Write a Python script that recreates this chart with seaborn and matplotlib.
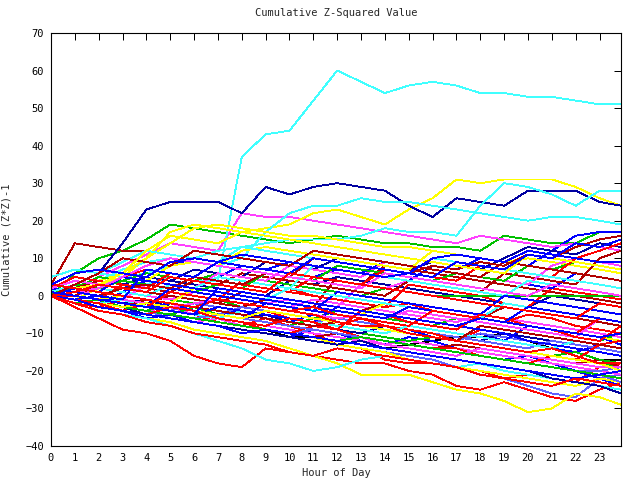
import numpy as np
import pandas as pd
import matplotlib
matplotlib.use("Agg")
import matplotlib.pyplot as plt
import seaborn as sns

hours = list(range(24)) + [23.9]

# cumulative (z*z)-1, one list per run, grouped by the line colour used in the chart
red_runs = [
    [0, -3, -6, -9, -10, -12, -16, -18, -19, -14, -15, -16, -17, -18, -18, -20, -21, -24, -25, -23, -25, -27, -28, -25, -23],
    [0, -1, -3, -4, -2, -4, -5, -7, -8, -6, -8, -10, -13, -14, -17, -18, -18, -19, -20, -22, -21, -22, -23, -19, -18],
    [1, 0, -1, 3, 2, 1, 0, -1, 4, 3, 2, 0, -1, -2, -3, 3, 2, 1, 0, -2, -3, 2, 1, 0, -1],
    [0, 2, 1, 0, -1, -2, -4, -5, -3, -4, -6, -7, -8, -6, -8, -9, -10, -12, -9, -10, -12, -13, -14, -15, -16],
    [2, 5, 4, 3, 2, 6, 5, 4, 3, 2, 1, 0, -1, -2, -3, -2, -4, -5, -6, -7, -5, -6, -8, -9, -10],
    [0, -2, -3, -1, -2, -4, -5, -6, -7, -9, -10, -8, -9, -11, -12, -13, -14, -14, -16, -17, -18, -16, -17, -13, -12],
    [1, 3, 6, 5, 7, 6, 5, 4, 3, 2, 1, 5, 4, 3, 7, 6, 5, 4, 8, 7, 6, 5, 10, 12, 14],
    [0, -1, -2, -4, -5, -3, -4, -6, -7, -8, -6, -7, -9, -4, -5, -7, -8, -9, -5, -6, -8, -9, -10, -6, -7],
    [3, 2, 1, 0, -1, -2, -3, -1, -2, -3, -4, -5, -7, -8, -8, -10, -11, -12, -13, -14, -15, -14, -16, -18, -18],
    [0, 0, -1, -2, -3, 1, 0, -1, -2, -3, -4, -3, -5, -6, -7, -8, -4, -5, -6, -7, -8, -9, -11, -12, -8],
    [0, -2, -4, -5, -7, -8, -10, -11, -12, -13, -15, -16, -14, -15, -16, -17, -18, -19, -21, -22, -23, -24, -22, -23, -24],
    [0, 1, 3, 2, 1, 5, 4, 3, 2, 1, 6, 5, 4, 3, 2, 1, 0, -1, -2, -3, -4, -5, -6, -2, -3],
]
green_runs = [
    [0, 6, 10, 12, 15, 19, 18, 17, 16, 15, 14, 15, 16, 15, 14, 14, 13, 13, 12, 16, 15, 14, 14, 17, 17],
    [0, 3, 2, 1, 0, -1, -2, -1, -3, -4, -5, -6, -4, -5, -6, -7, -8, -6, -7, -8, -9, -10, -11, -12, -10],
    [0, -1, -2, -3, -4, -5, -3, -4, -5, -6, -7, -8, -9, -10, -11, -12, -11, -12, -13, -14, -15, -16, -17, -18, -19],
    [1, 2, 5, 4, 6, 5, 4, 6, 5, 4, 3, 2, 1, 0, 2, 1, 0, 0, 0, 0, 0, 0, 0, 0, 0],
    [0, -2, -1, -3, -4, -2, -3, -5, -6, -7, -8, -6, -7, -8, -9, -10, -11, -12, -13, -14, -15, -16, -15, -17, -18],
    [0, 1, 2, 4, 3, 2, 1, 3, 2, 6, 5, 4, 8, 7, 6, 5, 4, 6, 5, 4, 8, 7, 9, 8, 7],
    [0, -1, -2, -3, -4, -5, -6, -7, -8, -9, -10, -11, -12, -11, -12, -13, -14, -15, -16, -17, -18, -19, -20, -21, -22],
]
blue_runs = [
    [0, -1, -2, 1, 4, 3, 2, 5, 8, 7, 6, 5, 7, 6, 5, 4, 8, 7, 10, 9, 8, 12, 16, 17, 17],
    [0, -2, -3, -4, -6, -5, -7, -8, -9, -10, -11, -9, -10, -12, -13, -11, -12, -14, -16, -17, -16, -18, -20, -22, -24],
    [2, 1, 0, -1, -2, -3, -4, -5, -4, -6, -7, -5, -6, -7, -8, -9, -11, -12, -10, -12, -13, -14, -15, -13, -12],
    [0, 1, 3, 2, 4, 8, 10, 9, 8, 7, 9, 8, 7, 6, 9, 8, 7, 6, 5, 4, 3, 2, 6, 5, 4],
    [0, -1, 0, -2, -3, -2, -4, -5, -6, -2, -3, -4, -5, -6, -7, -8, -9, -10, -11, -12, -8, -9, -10, -11, -13],
    [1, 0, -1, -2, -3, 2, 1, 0, -1, -2, -3, -4, 1, 0, -1, -2, -3, -4, -5, 0, -1, -2, -3, -4, -5],
    [0, -1, -2, -3, -2, -4, -5, -3, -4, -5, -6, -7, -3, -4, -5, -6, -7, -8, -9, -10, -12, -13, -14, -15, -16],
    [0, 2, 1, 5, 4, 3, 2, 1, 0, -1, -2, -3, -4, -5, -6, -3, -4, -5, -6, -7, -3, -4, -5, -6, -7],
    [3, 6, 7, 6, 5, 9, 10, 9, 11, 10, 9, 8, 7, 6, 5, 6, 10, 11, 10, 9, 12, 11, 10, 9, 9],
    [0, -1, -3, -4, -5, -6, -7, -8, -10, -9, -10, -11, -12, -13, -14, -15, -16, -17, -18, -19, -20, -21, -22, -21, -20],
    [0, 1, 0, -1, 7, 6, 5, 9, 8, 7, 6, 10, 9, 8, 7, 6, 5, 9, 8, 7, 11, 10, 14, 13, 15],
    [1, 0, -1, -2, -3, -4, -5, 2, 1, 0, -1, -2, -3, -4, -5, -6, -7, -8, -6, -7, -8, -9, -10, -11, -10],
]
magenta_runs = [
    [0, 2, 5, 8, 11, 14, 13, 12, 22, 21, 21, 20, 19, 18, 17, 16, 15, 14, 16, 15, 14, 13, 14, 13, 12],
    [0, -1, -2, -3, -4, -3, -5, -6, -7, -8, -9, -10, -11, -12, -13, -12, -13, -14, -15, -16, -17, -18, -19, -20, -21],
    [1, 0, 2, 1, 0, -1, 1, 0, -1, -2, -3, -1, -2, -3, -4, -5, -6, -7, -5, -6, -7, -8, -9, -10, -11],
    [0, 1, 0, -1, 3, 2, 1, 0, -1, -2, -1, -2, -3, 3, 2, 4, 3, 2, 1, 0, -1, -2, -3, -4, -5],
    [2, 4, 3, 5, 4, 3, 2, 6, 5, 4, 8, 7, 6, 5, 9, 8, 7, 6, 5, 4, 3, 8, 10, 9, 8],
    [0, -1, -2, -4, -5, -6, -7, -6, -8, -9, -10, -11, -12, -11, -13, -14, -15, -16, -14, -15, -16, -17, -18, -19, -19],
    [0, 1, 0, -1, -2, -3, -2, -1, -2, -3, -4, -5, -6, -5, -6, -4, -5, -6, -7, -8, -9, -10, -11, -6, -7],
    [0, 1, 2, 5, 8, 10, 9, 8, 7, 6, 5, 4, 3, 2, 6, 5, 4, 3, 2, 1, 0, 3, 2, 1, 0],
]
cyan_runs = [
    [0, 1, 0, 2, 3, 5, 4, 4, 37, 43, 44, 52, 60, 57, 54, 56, 57, 56, 54, 54, 53, 53, 52, 51, 51],
    [0, 2, 4, 7, 9, 10, 9, 8, 10, 17, 22, 24, 24, 26, 25, 25, 24, 23, 22, 21, 20, 21, 21, 20, 19],
    [0, 1, 3, 5, 6, 8, 10, 12, 13, 14, 15, 15, 15, 16, 18, 17, 17, 16, 24, 30, 29, 27, 24, 28, 28],
    [0, -2, -4, -5, -6, -8, -10, -12, -14, -17, -18, -20, -19, -17, -16, -17, -18, -19, -18, -20, -21, -22, -23, -24, -25],
    [0, 1, 2, 1, 0, 3, 2, 5, 4, 3, 2, 8, 7, 6, 5, 4, 3, 2, 1, 0, 4, 3, 2, 1, 0],
    [0, -1, -2, -1, -3, -4, -5, -6, -4, -5, -6, -7, -8, -9, -10, -8, -9, -10, -11, -12, -13, -14, -12, -13, -14],
    [5, 7, 6, 5, 4, 3, 2, 1, 0, -1, 2, 1, 0, -1, -2, -3, -4, -5, -6, -2, -3, -4, -5, -6, -7],
    [1, 3, 6, 9, 12, 11, 10, 9, 13, 12, 11, 10, 9, 8, 7, 6, 10, 9, 8, 7, 6, 5, 4, 3, 2],
]
darkred_runs = [
    [3, 14, 13, 12, 12, 11, 10, 9, 8, 7, 6, 5, 4, 3, 8, 7, 6, 5, 4, 3, 2, 1, 0, -1, -2],
    [0, 1, 0, -1, -2, 0, -1, -2, -3, -1, -2, -3, 5, 4, 3, 2, 1, 0, -1, -2, -3, -4, -5, -6, -7],
    [0, -1, -2, -3, -4, -5, -6, -7, -8, -9, -10, -11, -10, -11, -12, -13, -14, -13, -14, -15, -16, -17, -18, -17, -19],
    [0, 2, 4, 3, 2, 1, 4, 3, 6, 5, 4, 3, 2, 1, 0, 4, 3, 2, 1, 6, 5, 4, 3, 10, 12],
    [1, 0, 3, 2, 1, 0, -1, -2, 1, 0, -1, -2, -3, -4, -2, -3, -4, -5, -6, -3, -4, -5, -6, -7, -8],
    [0, -1, -2, -3, -1, -2, -3, -4, -5, -6, -7, -8, -7, -8, -9, -10, -11, -12, -8, -9, -10, -11, -12, -13, -14],
    [0, 1, 0, 2, 3, 2, 5, 4, 3, 6, 5, 10, 9, 8, 7, 6, 8, 7, 9, 8, 11, 10, 13, 15, 16],
    [0, 3, 6, 10, 9, 8, 12, 11, 10, 9, 8, 12, 11, 10, 9, 8, 7, 6, 5, 9, 8, 7, 6, 5, 4],
]
yellow_runs = [
    [0, -1, 2, 5, 10, 17, 19, 18, 17, 18, 19, 22, 23, 21, 19, 23, 26, 31, 30, 31, 31, 31, 29, 26, 24],
    [0, -2, -4, -5, -6, -7, -9, -10, -11, -12, -14, -16, -18, -21, -21, -21, -23, -25, -26, -28, -31, -30, -26, -27, -29],
    [0, 2, 4, 6, 10, 14, 18, 19, 18, 17, 16, 16, 15, 14, 13, 13, 12, 11, 10, 9, 10, 9, 8, 7, 6],
    [0, -1, -2, -3, -4, -5, -6, -7, -8, -9, -10, -11, -13, -14, -15, -17, -18, -19, -20, -21, -22, -23, -24, -22, -23],
    [1, 0, -1, 0, -1, -2, 2, 1, 0, -1, -2, -3, -4, -5, -2, -3, -4, -5, -6, -7, -8, -9, -10, -11, -12],
    [0, 2, 3, 5, 4, 8, 9, 8, 12, 13, 12, 11, 10, 9, 8, 7, 12, 11, 10, 9, 8, 7, 6, 5, 4],
    [0, -1, -2, -3, -2, -3, -4, -5, -6, -4, -5, -6, -7, -8, -9, -10, -11, -12, -13, -14, -15, -16, -17, -18, -20],
    [0, 1, 3, 6, 12, 16, 15, 14, 17, 16, 15, 14, 13, 12, 11, 10, 9, 8, 7, 6, 11, 10, 9, 8, 7],
]
navy_runs = [
    [0, 3, 6, 14, 23, 25, 25, 25, 22, 29, 27, 29, 30, 29, 28, 24, 21, 26, 25, 24, 28, 28, 28, 25, 24],
    [0, 2, 4, 3, 5, 4, 3, 2, 1, 0, 4, 3, 5, 4, 3, 2, 1, 0, -1, -2, -3, 0, -1, -2, -3],
    [1, 0, -1, -2, -1, -3, -4, -5, -6, -5, -7, -8, -9, -10, -8, -9, -10, -11, -12, -10, -11, -12, -13, -14, -15],
    [0, 1, 3, 6, 5, 4, 7, 6, 5, 9, 8, 7, 10, 9, 8, 7, 9, 8, 7, 10, 13, 12, 11, 14, 13],
    [0, -1, -2, -3, -5, -6, -7, -8, -9, -10, -11, -12, -13, -12, -14, -15, -16, -17, -18, -19, -20, -22, -23, -24, -26],
]
slate_runs = [
    [0, -1, -2, -3, -4, -6, -7, -8, -9, -10, -11, -12, -13, -14, -15, -16, -17, -19, -20, -22, -24, -26, -27, -22, -21],
    [0, -1, -2, -1, -2, -3, -4, -5, -6, -7, -8, -9, -10, -11, -12, -13, -14, -15, -16, -17, -18, -19, -20, -21, -22],
    [1, 0, -1, -2, -3, -4, -2, -3, -4, -5, -6, -7, -6, -7, -8, -9, -10, -11, -12, -13, -14, -12, -13, -14, -15],
    [0, 1, 0, -1, -2, -3, -4, -5, -3, -4, -5, -6, -7, -8, -9, -10, -11, -12, -10, -11, -12, -13, -14, -15, -16],
    [0, -1, -2, -3, -4, -5, -6, -7, -8, -9, -10, -9, -10, -11, -12, -13, -14, -15, -16, -17, -18, -19, -20, -20, -19],
    [0, -1, -2, -3, -4, -5, -6, -5, -6, -7, -8, -9, -10, -11, -12, -13, -14, -15, -16, -17, -18, -19, -20, -21, -23],
]
black_runs = [
    [0, -1, -2, -3, -4, -5, -6, -7, -8, -9, -11, -11, -12, -13, -14, -13, -12, -11, -11, -10, -12, -14, -15, -17, -17],
]

COLOR_GROUPS = [
    ("#ff0000", red_runs),
    ("#00c000", green_runs),
    ("#0000ff", blue_runs),
    ("#ff40ff", magenta_runs),
    ("#40ffff", cyan_runs),
    ("#b00000", darkred_runs),
    ("#ffff00", yellow_runs),
    ("#0000a0", navy_runs),
    ("#6060ff", slate_runs),
    ("#000000", black_runs),
]

# interleave the colours so no single colour ends up painted on top of everything
rows = []
palette = {}
longest = max(len(runs) for _, runs in COLOR_GROUPS)
run_id = 0
for k in range(longest):
    for color, runs in COLOR_GROUPS:
        if k < len(runs):
            name = f"run{run_id:02d}"
            palette[name] = color
            for h, v in zip(hours, runs[k]):
                rows.append({"run": name, "hour": h, "value": v})
            run_id += 1
df = pd.DataFrame(rows)

sns.set_style("white")
plt.rcParams["font.family"] = ["DejaVu Sans Mono", "DejaVu Sans"]

fig = plt.figure(figsize=(6.4, 4.8), dpi=100)
ax = fig.add_axes([51 / 640, 34 / 480, 570 / 640, 413 / 480])

# thin lines, no smoothing, like the bitmap original
sns.lineplot(
    data=df, x="hour", y="value", hue="run", palette=palette,
    hue_order=list(palette.keys()), estimator=None, sort=False,
    legend=False, linewidth=0.6, antialiased=False, ax=ax,
)

ax.set_xlim(0, 23.9)
ax.set_ylim(-40, 70)
ax.set_xticks(range(24))
ax.set_yticks(range(-40, 71, 10))
ax.tick_params(direction="in", length=5, width=0.72, top=True, right=True,
               labelsize=7.5, colors="black", pad=5)
for spine in ax.spines.values():
    spine.set_visible(True)
    spine.set_color("black")
    spine.set_linewidth(0.8)

ax.set_title("Cumulative Z-Squared Value", fontsize=7.5, pad=12)
ax.set_xlabel("Hour of Day", fontsize=7.5, labelpad=4)
ax.set_ylabel("Cumulative (Z*Z)-1", fontsize=7.5, labelpad=10)

fig.savefig("out.png", dpi=100)
